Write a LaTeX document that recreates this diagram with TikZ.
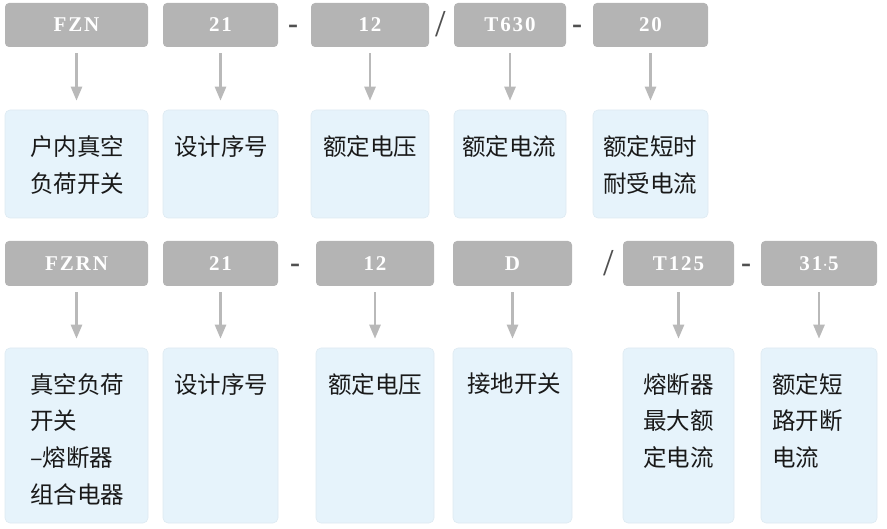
\documentclass[tikz,border=0pt]{standalone}
\usepackage{fontspec}
\setmainfont{Liberation Serif}
\newfontfamily\cjk{Noto Sans CJK SC}
\newfontfamily\codefont[LetterSpace=9]{Liberation Serif}
\usepackage{xcolor}
\usetikzlibrary{arrows.meta,positioning}
\definecolor{codegray}{RGB}{180,180,180}
\definecolor{notefill}{RGB}{230,243,251}
\definecolor{noteline}{RGB}{222,234,242}
\definecolor{arrgray}{RGB}{185,185,185}
\definecolor{sepgray}{RGB}{80,80,80}
\tikzset{
  code/.style={fill=codegray,rounded corners=4pt,inner sep=0pt,
               font=\codefont\fontsize{21}{21}\selectfont\bfseries,text=white},
  note/.style={fill=notefill,draw=noteline,line width=0.6pt,
               rounded corners=5pt,inner sep=0pt},
  notetxt/.style={anchor=west,align=left,inner sep=0pt,
                  font=\cjk\fontsize{23.5}{36.8}\selectfont,text=black!90},
  dashsep/.style={font=\fontsize{30}{30}\selectfont\bfseries,text=sepgray,inner sep=0pt},
  slashsep/.style={font=\fontsize{38}{38}\selectfont,text=sepgray,inner sep=0pt},
  arr/.style={-{Triangle[length=14pt,width=11pt]},line width=2.5pt,
              draw=arrgray,shorten <=6pt,shorten >=9pt},
}

\begin{document}
\begin{tikzpicture}[x=1pt,y=-1pt]
\useasboundingbox (0,0) rectangle (887,529);

% upper row: code boxes
\node[code,minimum width=143pt,minimum height=44pt] (fzn)  at (76.5,25) {FZN};
\node[code,minimum width=115pt,minimum height=44pt] (ua)   at (220.5,25) {21};
\node[code,minimum width=118pt,minimum height=44pt] (ub)   at (370,25) {12};
\node[code,minimum width=112pt,minimum height=44pt] (uc)   at (510,25) {T630};
\node[code,minimum width=115pt,minimum height=44pt] (ud)   at (650.5,25) {20};
\node[dashsep]  (us1) at (293,29) {-};
\node[slashsep] (us2) at (441,24) {/};
\node[dashsep]  (us3) at (577,29) {-};

% upper row: meaning boxes
\node[note,minimum width=143pt,minimum height=108pt] (nfzn) at (76.5,164) {};
\node[note,minimum width=115pt,minimum height=108pt] (na)   at (220.5,164) {};
\node[note,minimum width=118pt,minimum height=108pt] (nb)   at (370,164) {};
\node[note,minimum width=112pt,minimum height=108pt] (nc)   at (510,164) {};
\node[note,minimum width=115pt,minimum height=108pt] (nd)   at (650.5,164) {};
\node[notetxt,anchor=north west] (tfzn) at (30,135.5) {户内真空\\负荷开关};
\node[notetxt,anchor=north west] (ta)   at (174,135.5) {设计序号};
\node[notetxt,anchor=north west] (tb)   at (323,135.5) {额定电压};
\node[notetxt,anchor=north west] (tc)   at (462,135.5) {额定电流};
\node[notetxt,anchor=north west] (td)   at (603,135.5) {额定短时\\耐受电流};

\foreach \a/\b in {fzn/nfzn,ua/na,ub/nb,uc/nc,ud/nd}
  \draw[arr] (\a.south) -- (\b.north);

% lower row: code boxes
\node[code,minimum width=143pt,minimum height=45pt] (fzrn) at (76.5,263.5) {FZRN};
\node[code,minimum width=115pt,minimum height=45pt] (la)   at (220.5,263.5) {21};
\node[code,minimum width=118pt,minimum height=45pt] (lb)   at (375,263.5) {12};
\node[code,minimum width=119pt,minimum height=45pt] (lc)   at (512.5,263.5) {D};
\node[code,minimum width=111pt,minimum height=45pt] (ld)   at (678.5,263.5) {T125};
\node[code,minimum width=116pt,minimum height=45pt] (le)   at (819,263.5) {31$\cdot$5};
\node[dashsep]  (ls1) at (295,268) {-};
\node[slashsep] (ls2) at (609,263) {/};
\node[dashsep]  (ls3) at (746,268) {-};

% lower row: meaning boxes
\node[note,minimum width=143pt,minimum height=175pt] (nfzrn) at (76.5,435.5) {};
\node[note,minimum width=115pt,minimum height=175pt] (nla)   at (220.5,435.5) {};
\node[note,minimum width=118pt,minimum height=175pt] (nlb)   at (375,435.5) {};
\node[note,minimum width=119pt,minimum height=175pt] (nlc)   at (512.5,435.5) {};
\node[note,minimum width=111pt,minimum height=175pt] (nld)   at (678.5,435.5) {};
\node[note,minimum width=116pt,minimum height=175pt] (nle)   at (819,435.5) {};
\node[notetxt,anchor=north west] (tfzrn) at (30,373) {真空负荷\\开关\\–熔断器\\组合电器};
\node[notetxt,anchor=north west] (tla)   at (174,373) {设计序号};
\node[notetxt,anchor=north west] (tlb)   at (328,373) {额定电压};
\node[notetxt,anchor=north west] (tlc)   at (467,373) {接地开关};
\node[notetxt,anchor=north west] (tld)   at (643,373) {熔断器\\最大额\\定电流};
\node[notetxt,anchor=north west] (tle)   at (772,373) {额定短\\路开断\\电流};

\foreach \a/\b in {fzrn/nfzrn,la/nla,lb/nlb,lc/nlc,ld/nld,le/nle}
  \draw[arr] (\a.south) -- (\b.north);

\end{tikzpicture}
\end{document}
